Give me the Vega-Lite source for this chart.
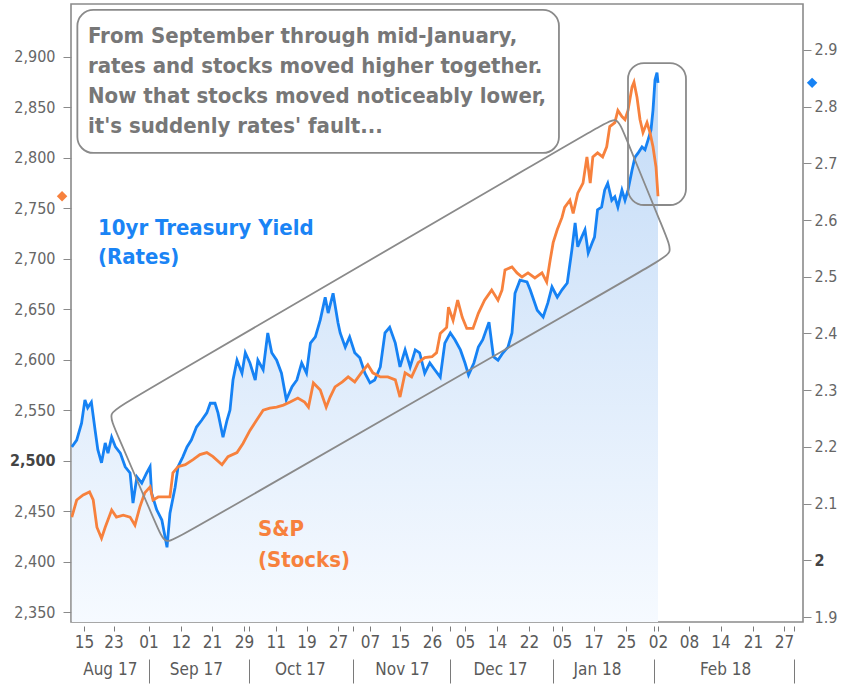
{
  "$schema": "https://vega.github.io/schema/vega-lite/v6.json",
  "width": 732,
  "height": 618,
  "autosize": {"type": "none"},
  "padding": {"left": 71, "top": 4, "right": 42, "bottom": 65},
  "background": "white",
  "config": {
    "view": {"stroke": "#8a8a8a", "strokeWidth": 1.6},
    "axis": {"grid": false, "domain": false, "tickColor": "#8a8a8a", "labelColor": "#5f5f5f", "labelFont": "DejaVu Sans Condensed"}
  },
  "datasets": {
    "yld": [
      {"t": "2017-08-11T06:00Z", "v": 2.200}, {"t": "2017-08-12T18:00Z", "v": 2.212}, {"t": "2017-08-14T06:00Z", "v": 2.242},
      {"t": "2017-08-15T06:00Z", "v": 2.283}, {"t": "2017-08-16T00:00Z", "v": 2.269}, {"t": "2017-08-17T00:00Z", "v": 2.279},
      {"t": "2017-08-18T00:00Z", "v": 2.230}, {"t": "2017-08-18T18:00Z", "v": 2.195}, {"t": "2017-08-19T18:00Z", "v": 2.172},
      {"t": "2017-08-20T18:00Z", "v": 2.207}, {"t": "2017-08-21T12:00Z", "v": 2.189}, {"t": "2017-08-22T12:00Z", "v": 2.217},
      {"t": "2017-08-23T12:00Z", "v": 2.200}, {"t": "2017-08-24T18:00Z", "v": 2.189}, {"t": "2017-08-26T00:00Z", "v": 2.165},
      {"t": "2017-08-27T06:00Z", "v": 2.154}, {"t": "2017-08-28T00:00Z", "v": 2.101}, {"t": "2017-08-29T00:00Z", "v": 2.147},
      {"t": "2017-08-30T06:00Z", "v": 2.136}, {"t": "2017-08-31T12:00Z", "v": 2.154}, {"t": "2017-09-01T12:00Z", "v": 2.165},
      {"t": "2017-09-02T00:00Z", "v": 2.119}, {"t": "2017-09-03T18:00Z", "v": 2.089}, {"t": "2017-09-05T12:00Z", "v": 2.071},
      {"t": "2017-09-07T06:00Z", "v": 2.023}, {"t": "2017-09-08T06:00Z", "v": 2.083}, {"t": "2017-09-10T00:00Z", "v": 2.129},
      {"t": "2017-09-11T00:00Z", "v": 2.165}, {"t": "2017-09-12T12:00Z", "v": 2.182}, {"t": "2017-09-13T18:00Z", "v": 2.200},
      {"t": "2017-09-15T00:00Z", "v": 2.212}, {"t": "2017-09-16T12:00Z", "v": 2.235}, {"t": "2017-09-18T00:00Z", "v": 2.247},
      {"t": "2017-09-19T12:00Z", "v": 2.260}, {"t": "2017-09-20T12:00Z", "v": 2.277}, {"t": "2017-09-21T18:00Z", "v": 2.277},
      {"t": "2017-09-22T12:00Z", "v": 2.260}, {"t": "2017-09-23T18:00Z", "v": 2.217}, {"t": "2017-09-24T18:00Z", "v": 2.247},
      {"t": "2017-09-25T12:00Z", "v": 2.265}, {"t": "2017-09-26T06:00Z", "v": 2.318}, {"t": "2017-09-27T06:00Z", "v": 2.353},
      {"t": "2017-09-28T12:00Z", "v": 2.330}, {"t": "2017-09-29T12:00Z", "v": 2.366}, {"t": "2017-10-01T06:00Z", "v": 2.348},
      {"t": "2017-10-03T06:00Z", "v": 2.318}, {"t": "2017-10-04T06:00Z", "v": 2.353}, {"t": "2017-10-06T06:00Z", "v": 2.336},
      {"t": "2017-10-08T00:00Z", "v": 2.401}, {"t": "2017-10-09T12:00Z", "v": 2.366}, {"t": "2017-10-11T06:00Z", "v": 2.353},
      {"t": "2017-10-12T12:00Z", "v": 2.330}, {"t": "2017-10-13T18:00Z", "v": 2.283}, {"t": "2017-10-15T06:00Z", "v": 2.306},
      {"t": "2017-10-16T12:00Z", "v": 2.318}, {"t": "2017-10-17T18:00Z", "v": 2.348}, {"t": "2017-10-19T00:00Z", "v": 2.330},
      {"t": "2017-10-20T00:00Z", "v": 2.383}, {"t": "2017-10-21T06:00Z", "v": 2.394}, {"t": "2017-10-22T12:00Z", "v": 2.424},
      {"t": "2017-10-23T18:00Z", "v": 2.464}, {"t": "2017-10-24T12:00Z", "v": 2.436}, {"t": "2017-10-25T18:00Z", "v": 2.471},
      {"t": "2017-10-27T00:00Z", "v": 2.419}, {"t": "2017-10-27T18:00Z", "v": 2.401}, {"t": "2017-10-29T12:00Z", "v": 2.376},
      {"t": "2017-10-31T00:00Z", "v": 2.394}, {"t": "2017-11-01T18:00Z", "v": 2.366}, {"t": "2017-11-03T12:00Z", "v": 2.357},
      {"t": "2017-11-05T06:00Z", "v": 2.330}, {"t": "2017-11-07T00:00Z", "v": 2.313}, {"t": "2017-11-08T06:00Z", "v": 2.318},
      {"t": "2017-11-09T18:00Z", "v": 2.341}, {"t": "2017-11-11T00:00Z", "v": 2.401}, {"t": "2017-11-12T06:00Z", "v": 2.411},
      {"t": "2017-11-13T18:00Z", "v": 2.383}, {"t": "2017-11-15T00:00Z", "v": 2.341}, {"t": "2017-11-16T18:00Z", "v": 2.371},
      {"t": "2017-11-18T12:00Z", "v": 2.341}, {"t": "2017-11-20T06:00Z", "v": 2.371}, {"t": "2017-11-21T18:00Z", "v": 2.366},
      {"t": "2017-11-23T12:00Z", "v": 2.330}, {"t": "2017-11-25T06:00Z", "v": 2.348}, {"t": "2017-11-26T18:00Z", "v": 2.336},
      {"t": "2017-11-28T06:00Z", "v": 2.323}, {"t": "2017-11-29T12:00Z", "v": 2.383}, {"t": "2017-12-01T00:00Z", "v": 2.401},
      {"t": "2017-12-02T06:00Z", "v": 2.389}, {"t": "2017-12-03T18:00Z", "v": 2.371}, {"t": "2017-12-05T00:00Z", "v": 2.348},
      {"t": "2017-12-06T00:00Z", "v": 2.327}, {"t": "2017-12-07T12:00Z", "v": 2.348}, {"t": "2017-12-08T18:00Z", "v": 2.376},
      {"t": "2017-12-10T00:00Z", "v": 2.389}, {"t": "2017-12-11T18:00Z", "v": 2.420}, {"t": "2017-12-13T00:00Z", "v": 2.359},
      {"t": "2017-12-14T06:00Z", "v": 2.353}, {"t": "2017-12-15T12:00Z", "v": 2.366}, {"t": "2017-12-16T18:00Z", "v": 2.376},
      {"t": "2017-12-17T18:00Z", "v": 2.401}, {"t": "2017-12-18T12:00Z", "v": 2.471}, {"t": "2017-12-19T18:00Z", "v": 2.494},
      {"t": "2017-12-21T12:00Z", "v": 2.491}, {"t": "2017-12-22T12:00Z", "v": 2.477}, {"t": "2017-12-25T12:00Z", "v": 2.441},
      {"t": "2017-12-28T00:00Z", "v": 2.429}, {"t": "2017-12-30T00:00Z", "v": 2.454}, {"t": "2017-12-31T18:00Z", "v": 2.482},
      {"t": "2018-01-03T00:00Z", "v": 2.464}, {"t": "2018-01-05T00:00Z", "v": 2.477}, {"t": "2018-01-07T00:00Z", "v": 2.489},
      {"t": "2018-01-08T18:00Z", "v": 2.547}, {"t": "2018-01-10T00:00Z", "v": 2.595}, {"t": "2018-01-11T00:00Z", "v": 2.553},
      {"t": "2018-01-12T12:00Z", "v": 2.570}, {"t": "2018-01-13T18:00Z", "v": 2.583}, {"t": "2018-01-15T00:00Z", "v": 2.542},
      {"t": "2018-01-16T12:00Z", "v": 2.560}, {"t": "2018-01-17T06:00Z", "v": 2.570}, {"t": "2018-01-18T00:00Z", "v": 2.618},
      {"t": "2018-01-19T00:00Z", "v": 2.623}, {"t": "2018-01-19T18:00Z", "v": 2.653}, {"t": "2018-01-20T12:00Z", "v": 2.665},
      {"t": "2018-01-21T12:00Z", "v": 2.635}, {"t": "2018-01-22T06:00Z", "v": 2.641}, {"t": "2018-01-23T00:00Z", "v": 2.623},
      {"t": "2018-01-24T00:00Z", "v": 2.653}, {"t": "2018-01-24T18:00Z", "v": 2.635}, {"t": "2018-01-25T12:00Z", "v": 2.653},
      {"t": "2018-01-26T12:00Z", "v": 2.688}, {"t": "2018-01-27T06:00Z", "v": 2.711}, {"t": "2018-01-28T00:00Z", "v": 2.718},
      {"t": "2018-01-29T00:00Z", "v": 2.729}, {"t": "2018-01-29T18:00Z", "v": 2.724}, {"t": "2018-01-30T12:00Z", "v": 2.741},
      {"t": "2018-01-31T06:00Z", "v": 2.759}, {"t": "2018-01-31T18:00Z", "v": 2.794}, {"t": "2018-02-01T06:00Z", "v": 2.847},
      {"t": "2018-02-01T18:00Z", "v": 2.860}, {"t": "2018-02-02T00:00Z", "v": 2.842}
    ],
    "spx": [
      {"t": "2017-08-11T06:00Z", "v": 2444}, {"t": "2017-08-12T18:00Z", "v": 2461}, {"t": "2017-08-14T18:00Z", "v": 2466},
      {"t": "2017-08-16T12:00Z", "v": 2469}, {"t": "2017-08-17T12:00Z", "v": 2461}, {"t": "2017-08-18T12:00Z", "v": 2434},
      {"t": "2017-08-19T18:00Z", "v": 2423}, {"t": "2017-08-20T18:00Z", "v": 2434}, {"t": "2017-08-22T12:00Z", "v": 2451},
      {"t": "2017-08-23T18:00Z", "v": 2444}, {"t": "2017-08-25T12:00Z", "v": 2446}, {"t": "2017-08-27T06:00Z", "v": 2444},
      {"t": "2017-08-28T12:00Z", "v": 2436}, {"t": "2017-08-29T18:00Z", "v": 2454}, {"t": "2017-08-31T00:00Z", "v": 2468},
      {"t": "2017-09-01T12:00Z", "v": 2474}, {"t": "2017-09-02T12:00Z", "v": 2461}, {"t": "2017-09-04T06:00Z", "v": 2464},
      {"t": "2017-09-06T00:00Z", "v": 2464}, {"t": "2017-09-08T06:00Z", "v": 2464}, {"t": "2017-09-09T06:00Z", "v": 2488},
      {"t": "2017-09-11T00:00Z", "v": 2494}, {"t": "2017-09-13T06:00Z", "v": 2496}, {"t": "2017-09-15T12:00Z", "v": 2501},
      {"t": "2017-09-17T12:00Z", "v": 2506}, {"t": "2017-09-19T12:00Z", "v": 2508}, {"t": "2017-09-21T06:00Z", "v": 2504},
      {"t": "2017-09-23T12:00Z", "v": 2496}, {"t": "2017-09-25T00:00Z", "v": 2504}, {"t": "2017-09-27T06:00Z", "v": 2508},
      {"t": "2017-09-28T18:00Z", "v": 2517}, {"t": "2017-10-01T06:00Z", "v": 2530}, {"t": "2017-10-03T18:00Z", "v": 2540},
      {"t": "2017-10-06T06:00Z", "v": 2550}, {"t": "2017-10-08T18:00Z", "v": 2552}, {"t": "2017-10-11T06:00Z", "v": 2553},
      {"t": "2017-10-13T00:00Z", "v": 2555}, {"t": "2017-10-14T18:00Z", "v": 2558}, {"t": "2017-10-16T18:00Z", "v": 2562},
      {"t": "2017-10-18T12:00Z", "v": 2558}, {"t": "2017-10-19T12:00Z", "v": 2553}, {"t": "2017-10-20T18:00Z", "v": 2577},
      {"t": "2017-10-22T12:00Z", "v": 2570}, {"t": "2017-10-24T00:00Z", "v": 2553}, {"t": "2017-10-25T00:00Z", "v": 2563},
      {"t": "2017-10-26T06:00Z", "v": 2573}, {"t": "2017-10-28T12:00Z", "v": 2578}, {"t": "2017-10-30T12:00Z", "v": 2583},
      {"t": "2017-11-01T18:00Z", "v": 2578}, {"t": "2017-11-04T06:00Z", "v": 2588}, {"t": "2017-11-06T06:00Z", "v": 2595},
      {"t": "2017-11-07T18:00Z", "v": 2587}, {"t": "2017-11-09T18:00Z", "v": 2583}, {"t": "2017-11-11T18:00Z", "v": 2583},
      {"t": "2017-11-13T18:00Z", "v": 2580}, {"t": "2017-11-15T00:00Z", "v": 2563}, {"t": "2017-11-16T18:00Z", "v": 2587},
      {"t": "2017-11-19T00:00Z", "v": 2583}, {"t": "2017-11-21T06:00Z", "v": 2597}, {"t": "2017-11-23T12:00Z", "v": 2602},
      {"t": "2017-11-26T00:00Z", "v": 2603}, {"t": "2017-11-27T06:00Z", "v": 2607}, {"t": "2017-11-28T06:00Z", "v": 2626},
      {"t": "2017-11-30T00:00Z", "v": 2632}, {"t": "2017-11-30T12:00Z", "v": 2652}, {"t": "2017-12-01T18:00Z", "v": 2639},
      {"t": "2017-12-03T00:00Z", "v": 2659}, {"t": "2017-12-04T06:00Z", "v": 2642}, {"t": "2017-12-05T12:00Z", "v": 2631},
      {"t": "2017-12-07T06:00Z", "v": 2631}, {"t": "2017-12-08T18:00Z", "v": 2646}, {"t": "2017-12-10T12:00Z", "v": 2659},
      {"t": "2017-12-12T12:00Z", "v": 2669}, {"t": "2017-12-14T06:00Z", "v": 2659}, {"t": "2017-12-15T06:00Z", "v": 2669},
      {"t": "2017-12-16T00:00Z", "v": 2689}, {"t": "2017-12-17T18:00Z", "v": 2692}, {"t": "2017-12-19T00:00Z", "v": 2686},
      {"t": "2017-12-20T06:00Z", "v": 2682}, {"t": "2017-12-21T18:00Z", "v": 2686}, {"t": "2017-12-24T12:00Z", "v": 2681},
      {"t": "2017-12-27T12:00Z", "v": 2686}, {"t": "2017-12-29T12:00Z", "v": 2677}, {"t": "2017-12-31T00:00Z", "v": 2699},
      {"t": "2018-01-01T06:00Z", "v": 2716}, {"t": "2018-01-03T00:00Z", "v": 2729}, {"t": "2018-01-05T00:00Z", "v": 2741},
      {"t": "2018-01-06T00:00Z", "v": 2751}, {"t": "2018-01-08T00:00Z", "v": 2758}, {"t": "2018-01-09T06:00Z", "v": 2745},
      {"t": "2018-01-11T00:00Z", "v": 2765}, {"t": "2018-01-13T00:00Z", "v": 2775}, {"t": "2018-01-14T12:00Z", "v": 2801},
      {"t": "2018-01-15T18:00Z", "v": 2775}, {"t": "2018-01-16T18:00Z", "v": 2801}, {"t": "2018-01-18T00:00Z", "v": 2805},
      {"t": "2018-01-19T06:00Z", "v": 2801}, {"t": "2018-01-20T06:00Z", "v": 2811}, {"t": "2018-01-21T00:00Z", "v": 2831},
      {"t": "2018-01-22T06:00Z", "v": 2835}, {"t": "2018-01-23T00:00Z", "v": 2847}, {"t": "2018-01-24T00:00Z", "v": 2841},
      {"t": "2018-01-24T18:00Z", "v": 2838}, {"t": "2018-01-25T12:00Z", "v": 2847}, {"t": "2018-01-26T12:00Z", "v": 2870},
      {"t": "2018-01-27T00:00Z", "v": 2875}, {"t": "2018-01-27T18:00Z", "v": 2860}, {"t": "2018-01-28T12:00Z", "v": 2838},
      {"t": "2018-01-29T06:00Z", "v": 2825}, {"t": "2018-01-30T06:00Z", "v": 2835}, {"t": "2018-01-31T00:00Z", "v": 2825},
      {"t": "2018-01-31T18:00Z", "v": 2811}, {"t": "2018-02-01T12:00Z", "v": 2791}, {"t": "2018-02-02T00:00Z", "v": 2762}
    ],
    "yldLast": [{"t": "2018-03-04T22:00Z", "v": 2.842}],
    "spxLast": [{"t": "2017-08-08T06:00Z", "v": 2762}],
    "channel": [
      {"i": 1, "t": "2017-08-23T10:00Z", "v": 2530.9}, {"i": 2, "t": "2017-08-21T12:00Z", "v": 2547.2},
      {"i": 3, "t": "2017-08-25T13:00Z", "v": 2556.2}, {"i": 4, "t": "2018-01-18T23:00Z", "v": 2832.5},
      {"i": 5, "t": "2018-01-22T19:00Z", "v": 2841.5}, {"i": 6, "t": "2018-01-24T11:00Z", "v": 2825.0},
      {"i": 7, "t": "2018-02-03T14:00Z", "v": 2722.3}, {"i": 8, "t": "2018-02-04T22:00Z", "v": 2705.8},
      {"i": 9, "t": "2018-02-01T20:00Z", "v": 2696.8}, {"i": 10, "t": "2017-09-11T21:00Z", "v": 2425.3},
      {"i": 11, "t": "2017-09-06T14:00Z", "v": 2416.4}, {"i": 12, "t": "2017-09-04T04:00Z", "v": 2432.7}
    ],
    "boxes": [
      {"t": "2017-08-12T23:00Z", "t2": "2018-01-03T17:00Z", "v": 2946.6, "v2": 2804.9},
      {"t": "2018-01-25T12:00Z", "t2": "2018-02-07T10:00Z", "v": 2894.0, "v2": 2753.3}
    ],
    "notes": [
      {"who": "box", "t": "2017-08-16T02:00Z", "v": 2913.9, "label": "From September through mid-January,\nrates and stocks moved higher together.\nNow that stocks moved noticeably lower,\nit's suddenly rates' fault..."},
      {"who": "rates", "t": "2017-08-18T19:00Z", "v": 2723.6, "label": "10yr Treasury Yield\n(Rates)"},
      {"who": "stocks", "t": "2017-10-04T07:00Z", "v": 2425.3, "label": "S&P\n(Stocks)"}
    ]
  },
  "resolve": {"scale": {"y": "independent"}, "axis": {"x": "independent", "y": "independent"}},
  "layer": [
    {
      "encoding": {
        "x": {
          "field": "t", "type": "quantitative",
          "scale": {"type": "linear", "nice": false, "zero": false,
            "domain": [1502409600000, 1502755200000, 1503446400000, 1504224000000, 1505174400000, 1505952000000, 1506643200000, 1507680000000, 1508371200000, 1509062400000, 1510012800000, 1510704000000, 1511654400000, 1512432000000, 1513209600000, 1513900800000, 1515110400000, 1516147200000, 1516838400000, 1517529600000, 1518048000000, 1518566400000, 1519171200000, 1519689600000, 1520035200000],
            "range": [0, 13, 42.5, 77.6, 110, 141, 173, 204.7, 235.5, 267, 299, 329, 361, 394, 426, 458, 491, 522.5, 555, 587, 618, 649.5, 682, 713, 732]
          },
          "axis": {
            "orient": "bottom", "title": null,
            "values": [1502755200000, 1503446400000, 1504224000000, 1505174400000, 1505952000000, 1506643200000, 1506816000000, 1507680000000, 1508371200000, 1509062400000, 1509494400000, 1510012800000, 1510704000000, 1511654400000, 1512086400000, 1512432000000, 1513209600000, 1513900800000, 1514764800000, 1515110400000, 1516147200000, 1516838400000, 1517443200000, 1517529600000, 1518048000000, 1518566400000, 1519171200000, 1519689600000, 1519862400000],
            "labelExpr": "utcdate(datum.value) == 1 && utcmonth(datum.value) != 8 ? '' : utcFormat(datum.value, '%d')",
            "offset": 4, "tickSize": 5, "tickColor": "#7a7a7a", "labelPadding": 3,
            "labelFontSize": 17, "labelColor": "#5a5a5a",
            "labelOverlap": false, "labelFlush": false, "labelBound": false, "domain": false, "grid": false
          }
        },
        "y": {
          "field": "v", "type": "quantitative",
          "scale": {"domain": [1.8912, 2.9811], "nice": false, "zero": false},
          "axis": {
            "orient": "right", "title": null,
            "values": [1.9, 2, 2.1, 2.2, 2.3, 2.4, 2.5, 2.6, 2.7, 2.8, 2.9],
            "labelExpr": "datum.value == 2 ? '2' : format(datum.value, '.1f')",
            "tickSize": 8, "labelPadding": 3, "labelFontSize": 16,
            "labelFontWeight": {"condition": {"test": "datum.value == 2", "value": "bold"}, "value": "normal"},
            "labelColor": {"condition": {"test": "datum.value == 2", "value": "#444444"}, "value": "#666666"},
            "domain": false, "grid": false
          }
        }
      },
      "layer": [
        {
          "data": {"name": "yld", "format": {"parse": {"t": "date"}}},
          "mark": {"type": "area", "clip": true,
            "fill": {"gradient": "linear", "x1": 0, "y1": 0, "x2": 0, "y2": 1,
              "stops": [{"offset": 0, "color": "#c3dbf7"}, {"offset": 1, "color": "#f6faff"}]}},
          "encoding": {"y": {"field": "v", "type": "quantitative", "stack": null,
            "scale": {"domain": [1.8912, 2.9811], "nice": false, "zero": false},
            "axis": {
              "orient": "right", "title": null,
              "values": [1.9, 2, 2.1, 2.2, 2.3, 2.4, 2.5, 2.6, 2.7, 2.8, 2.9],
              "labelExpr": "datum.value == 2 ? '2' : format(datum.value, '.1f')",
              "tickSize": 8, "labelPadding": 3, "labelFontSize": 16,
              "labelFontWeight": {"condition": {"test": "datum.value == 2", "value": "bold"}, "value": "normal"},
              "labelColor": {"condition": {"test": "datum.value == 2", "value": "#444444"}, "value": "#666666"},
              "domain": false, "grid": false
            }}}
        },
        {
          "data": {"name": "yld", "format": {"parse": {"t": "date"}}},
          "mark": {"type": "line", "clip": true, "color": "#1682f4", "strokeWidth": 2.8}
        },
        {
          "data": {"name": "yldLast", "format": {"parse": {"t": "date"}}},
          "mark": {"type": "point", "shape": "diamond", "filled": true, "size": 110, "color": "#1682f4", "opacity": 1, "clip": false}
        }
      ]
    },
    {
      "encoding": {
        "x": {
          "field": "t", "type": "quantitative",
          "scale": {"type": "linear", "nice": false, "zero": false,
            "domain": [1502409600000, 1502755200000, 1503446400000, 1504224000000, 1505174400000, 1505952000000, 1506643200000, 1507680000000, 1508371200000, 1509062400000, 1510012800000, 1510704000000, 1511654400000, 1512432000000, 1513209600000, 1513900800000, 1515110400000, 1516147200000, 1516838400000, 1517529600000, 1518048000000, 1518566400000, 1519171200000, 1519689600000, 1520035200000],
            "range": [0, 13, 42.5, 77.6, 110, 141, 173, 204.7, 235.5, 267, 299, 329, 361, 394, 426, 458, 491, 522.5, 555, 587, 618, 649.5, 682, 713, 732]
          },
          "axis": {
            "orient": "bottom", "title": null,
            "values": [1503360000000, 1505548800000, 1508223600000, 1510761600000, 1513274400000, 1516222800000, 1518652800000],
            "labelExpr": "utcFormat(datum.value, '%b %y')",
            "ticks": false, "tickSize": 0, "offset": 37, "labelPadding": 2,
            "labelFontSize": 17, "labelColor": "#5a5a5a",
            "labelOverlap": false, "labelFlush": false, "labelBound": false, "domain": false, "grid": false
          }
        },
        "y": {
          "field": "v", "type": "quantitative",
          "scale": {"domain": [2340.1, 2952.5], "nice": false, "zero": false},
          "axis": {
            "orient": "left", "title": null,
            "values": [2350, 2400, 2450, 2500, 2550, 2600, 2650, 2700, 2750, 2800, 2850, 2900],
            "format": ",d",
            "tickSize": 8, "labelPadding": 8, "labelFontSize": 16,
            "labelFontWeight": {"condition": {"test": "datum.value == 2500", "value": "bold"}, "value": "normal"},
            "labelColor": {"condition": {"test": "datum.value == 2500", "value": "#444444"}, "value": "#666666"},
            "domain": false, "grid": false
          }
        }
      },
      "layer": [
        {
          "data": {"name": "spx", "format": {"parse": {"t": "date"}}},
          "mark": {"type": "line", "clip": true, "color": "#f7813d", "strokeWidth": 2.8}
        },
        {
          "data": {"name": "spxLast", "format": {"parse": {"t": "date"}}},
          "mark": {"type": "point", "shape": "diamond", "filled": true, "size": 110, "color": "#f7813d", "opacity": 1, "clip": false}
        },
        {
          "data": {"name": "channel", "format": {"parse": {"t": "date"}}},
          "mark": {"type": "line", "interpolate": "basis-closed", "color": "#8a8a8a", "strokeWidth": 1.8, "clip": false},
          "encoding": {"order": {"field": "i", "type": "quantitative"}}
        },
        {
          "data": {"name": "notes", "format": {"parse": {"t": "date"}}},
          "transform": [{"filter": "datum.who == 'box'"}],
          "mark": {"type": "text", "align": "left", "baseline": "alphabetic", "lineBreak": "\n", "lineHeight": 30,
            "font": "DejaVu Sans Condensed", "fontWeight": "bold", "fontSize": 22, "color": "#777777"},
          "encoding": {"text": {"field": "label"}}
        },
        {
          "data": {"name": "notes", "format": {"parse": {"t": "date"}}},
          "transform": [{"filter": "datum.who == 'rates'"}],
          "mark": {"type": "text", "align": "left", "baseline": "alphabetic", "lineBreak": "\n", "lineHeight": 29,
            "font": "DejaVu Sans Condensed", "fontWeight": "bold", "fontSize": 22, "color": "#1a84f5"},
          "encoding": {"text": {"field": "label"}}
        },
        {
          "data": {"name": "notes", "format": {"parse": {"t": "date"}}},
          "transform": [{"filter": "datum.who == 'stocks'"}],
          "mark": {"type": "text", "align": "left", "baseline": "alphabetic", "lineBreak": "\n", "lineHeight": 31,
            "font": "DejaVu Sans Condensed", "fontWeight": "bold", "fontSize": 22, "color": "#f7813d"},
          "encoding": {"text": {"field": "label"}}
        }
      ]
    },
    {
      "data": {"name": "boxes", "format": {"parse": {"t": "date", "t2": "date"}}},
      "mark": {"type": "rect", "fill": "transparent", "stroke": "#8a8a8a", "strokeWidth": 1.8, "cornerRadius": 16, "clip": false},
      "encoding": {
        "x": {
          "field": "t", "type": "quantitative",
          "scale": {"type": "linear", "nice": false, "zero": false,
            "domain": [1502409600000, 1502755200000, 1503446400000, 1504224000000, 1505174400000, 1505952000000, 1506643200000, 1507680000000, 1508371200000, 1509062400000, 1510012800000, 1510704000000, 1511654400000, 1512432000000, 1513209600000, 1513900800000, 1515110400000, 1516147200000, 1516838400000, 1517529600000, 1518048000000, 1518566400000, 1519171200000, 1519689600000, 1520035200000],
            "range": [0, 13, 42.5, 77.6, 110, 141, 173, 204.7, 235.5, 267, 299, 329, 361, 394, 426, 458, 491, 522.5, 555, 587, 618, 649.5, 682, 713, 732]
          },
          "axis": {
            "orient": "bottom", "title": null,
            "values": [1504224000000, 1506816000000, 1509494400000, 1512086400000, 1514764800000, 1517443200000, 1519862400000],
            "labels": false, "tickSize": 24, "offset": 37, "tickColor": "#7a7a7a", "domain": false, "grid": false
          }
        },
        "x2": {"field": "t2"},
        "y": {
          "field": "v", "type": "quantitative",
          "scale": {"domain": [2340.1, 2952.5], "nice": false, "zero": false},
          "axis": null
        },
        "y2": {"field": "v2"}
      }
    }
  ]
}
